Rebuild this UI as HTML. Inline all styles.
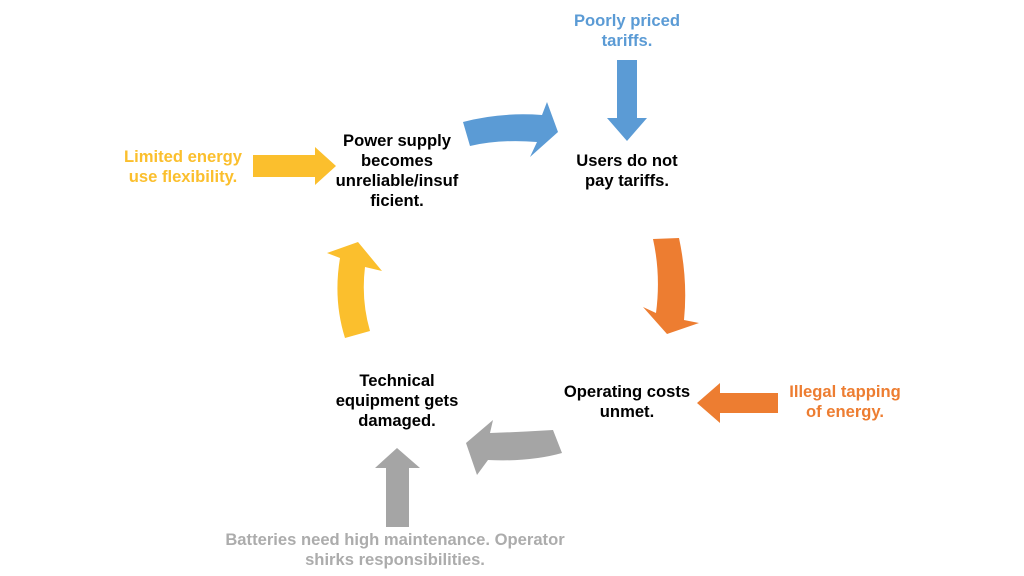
<!DOCTYPE html>
<html><head><style>
body{margin:0;width:1024px;height:576px;background:#fff;position:relative;overflow:hidden;font-family:"Liberation Sans",Arial,sans-serif;font-weight:bold}
.t{position:absolute;text-align:center;font-size:16.6px;line-height:20px;width:200px}
</style></head><body>
<svg width="1024" height="576" style="position:absolute;left:0;top:0">
<path d="M463,122 Q500,112 542,115 L547,102 L558,132 L530,157 L537,142 Q500,139 470,146 Z" fill="#5b9bd5"/>
<path d="M617,60 H637 V118 H647 L627,141 L607,118 H617 Z" fill="#5b9bd5"/>
<path d="M653,239 L679,238 Q688,280 684,320 L699,323 L667,334 L643,307 L656,313 Q661,275 653,239 Z" fill="#ed7d31"/>
<path d="M778,393 V413 H720 V423 L697,403 L720,383 V393 Z" fill="#ed7d31"/>
<path d="M553,430 Q520,432 490,433 L493,420 L466,443 L477,475 L488,460 Q530,462 562,453 Z" fill="#a5a5a5"/>
<path d="M386,527 V468 H375 L397,448 L420,468 H409 V527 Z" fill="#a5a5a5"/>
<path d="M345,338 Q333,300 340,258 L327,253 L358,242 L382,271 L365,267 Q361,300 370,331 Z" fill="#fbbf2d"/>
<path d="M253,155 H315 V147 L336,166 L315,185 V177 H253 Z" fill="#fbbf2d"/>
</svg>
<div class="t" style="left:297px;top:131px;color:#000">Power supply<br>becomes<br>unreliable/insuf<br>ficient.</div>
<div class="t" style="left:527px;top:151px;color:#000">Users do not<br>pay tariffs.</div>
<div class="t" style="left:527px;top:11px;color:#5b9bd5">Poorly priced<br>tariffs.</div>
<div class="t" style="left:83px;top:147px;color:#fbbf2d">Limited energy<br>use flexibility.</div>
<div class="t" style="left:527px;top:382px;color:#000">Operating costs<br>unmet.</div>
<div class="t" style="left:745px;top:382px;color:#ed7d31">Illegal tapping<br>of energy.</div>
<div class="t" style="left:297px;top:371px;color:#000">Technical<br>equipment gets<br>damaged.</div>
<div class="t" style="left:195px;top:530px;width:400px;color:#acacac">Batteries need high maintenance. Operator<br>shirks responsibilities.</div>
</body></html>
